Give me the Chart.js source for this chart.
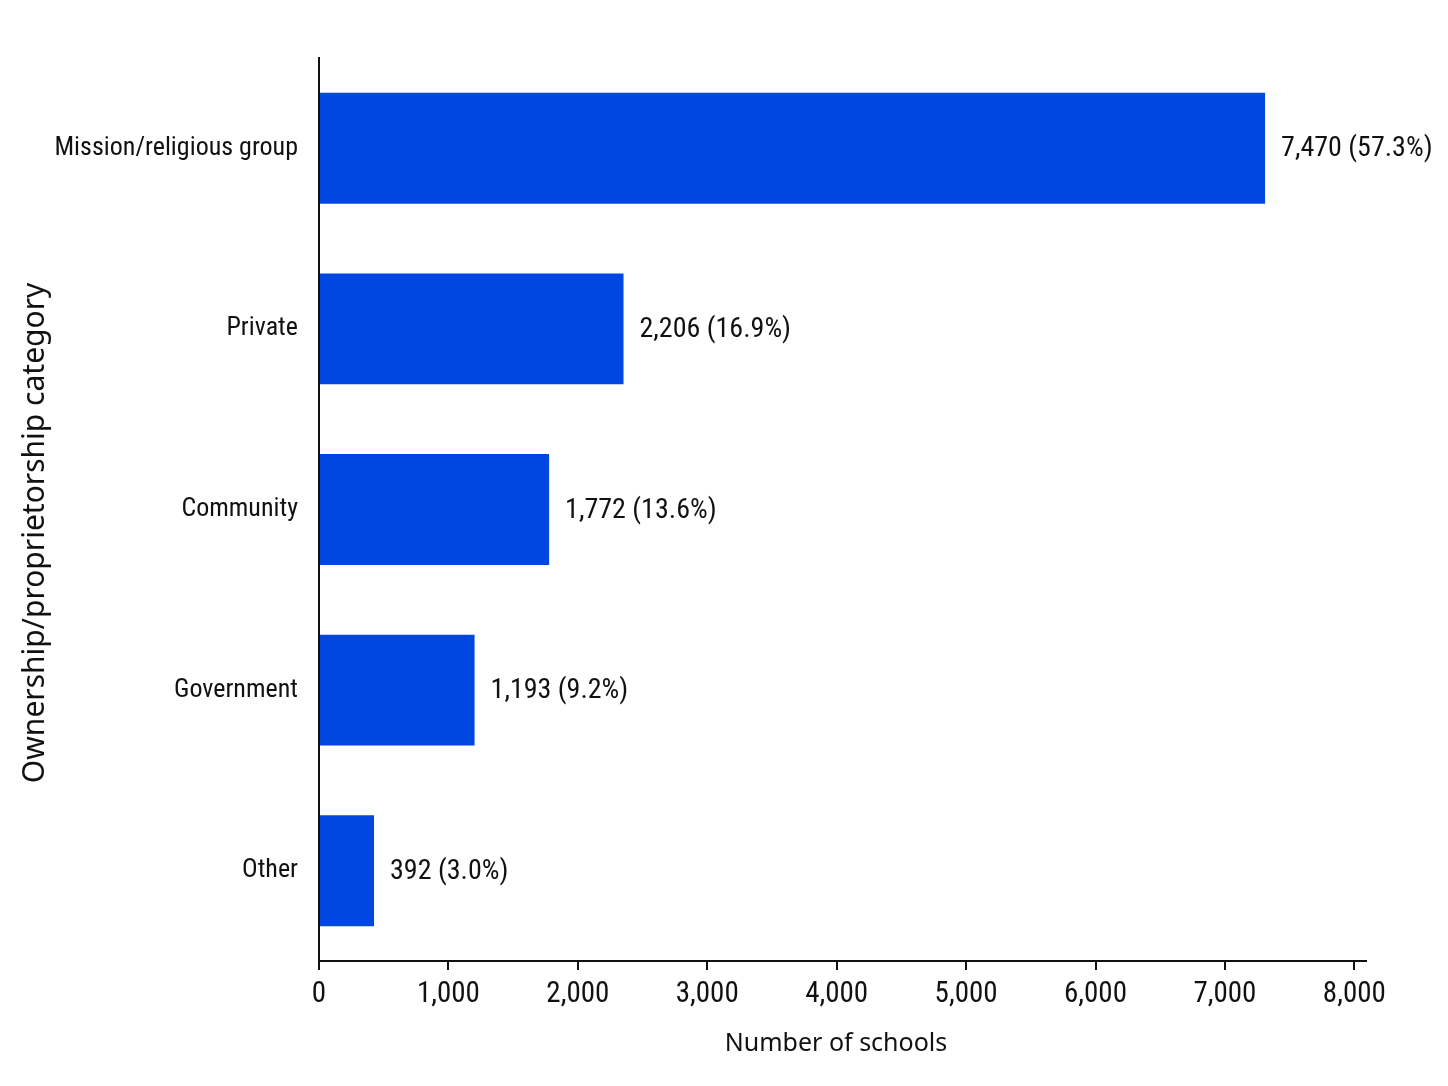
<!DOCTYPE html>
<html>
<head>
<meta charset="utf-8">
<script src="https://cdn.jsdelivr.net/npm/chart.js@4"></script>
<style>
  html, body { margin: 0; padding: 0; background: #ffffff; }
  #wrap { width: 1448px; height: 1086px; position: relative; }
</style>
</head>
<body>
<div id="wrap"><canvas id="c"></canvas></div>
<script>
// ---- data ----
const categories = ['Mission/religious group', 'Private', 'Community', 'Government', 'Other'];
// bar lengths as drawn in the picture (number of schools)
const barValues = [7310, 2353, 1778, 1202, 425];
// value labels printed next to the bars
const printedCounts = ['7,470', '2,206', '1,772', '1,193', '392'];
const printedShares = ['57.3%', '16.9%', '13.6%', '9.2%', '3.0%'];
// x axis ticks
const xTickValues = [0, 1000, 2000, 3000, 4000, 5000, 6000, 7000, 8000];
const xTickLabels = ['0', '1,000', '2,000', '3,000', '4,000', '5,000', '6,000', '7,000', '8,000'];
const xAxisMax = 8090;

const NARROW = '"Roboto Condensed", "DejaVu Sans Condensed", sans-serif';
const TITLEFONT = '"Noto Sans", "Open Sans", sans-serif';
const INK = '#111111';

const valueLabels = {
  id: 'valueLabels',
  afterDatasetsDraw(chart) {
    const ctx = chart.ctx;
    const meta = chart.getDatasetMeta(0);
    ctx.save();
    ctx.font = '28px ' + NARROW;
    ctx.fillStyle = INK;
    ctx.textAlign = 'left';
    ctx.textBaseline = 'middle';
    meta.data.forEach((bar, i) => {
      ctx.fillText(printedCounts[i] + ' (' + printedShares[i] + ')', bar.x + 16, bar.y + 1);
    });
    ctx.restore();
  }
};

new Chart(document.getElementById('c'), {
  type: 'bar',
  data: {
    labels: categories,
    datasets: [{
      data: barValues,
      backgroundColor: '#0047E0',
      borderWidth: 0,
      barPercentage: 0.614,
      categoryPercentage: 1.0
    }]
  },
  options: {
    indexAxis: 'y',
    responsive: true,
    maintainAspectRatio: false,
    animation: false,
    devicePixelRatio: 1,
    layout: { padding: { top: 58, right: 82, bottom: 0, left: 0 } },
    plugins: {
      legend: { display: false },
      tooltip: { enabled: false }
    },
    scales: {
      x: {
        type: 'linear',
        min: 0,
        max: xAxisMax,
        afterBuildTicks(scale) {
          scale.ticks = xTickValues.map(v => ({ value: v }));
        },
        afterFit(scale) { scale.height = 125; },
        ticks: {
          autoSkip: false,
          maxRotation: 0,
          padding: 7,
          color: INK,
          font: { family: NARROW, size: 29 },
          callback: (v, i) => xTickLabels[i]
        },
        grid: {
          drawOnChartArea: false,
          drawTicks: true,
          tickLength: 9,
          color: INK,
          lineWidth: 2
        },
        border: { display: true, color: INK, width: 2 },
        title: {
          display: true,
          text: 'Number of schools  ',
          color: INK,
          font: { family: TITLEFONT, size: 25 },
          padding: { top: 0, bottom: 27 }
        }
      },
      y: {
        afterFit(scale) { scale.width = 319; },
        ticks: {
          padding: 21,
          color: INK,
          font: { family: NARROW, size: 26 }
        },
        grid: { display: false, drawTicks: false },
        border: { display: true, color: INK, width: 2 },
        title: {
          display: true,
          text: 'Ownership/proprietorship category      ',
          color: INK,
          font: { family: TITLEFONT, size: 30 },
          padding: { top: 17, bottom: 0 }
        }
      }
    }
  },
  plugins: [valueLabels]
});
</script>
</body>
</html>
